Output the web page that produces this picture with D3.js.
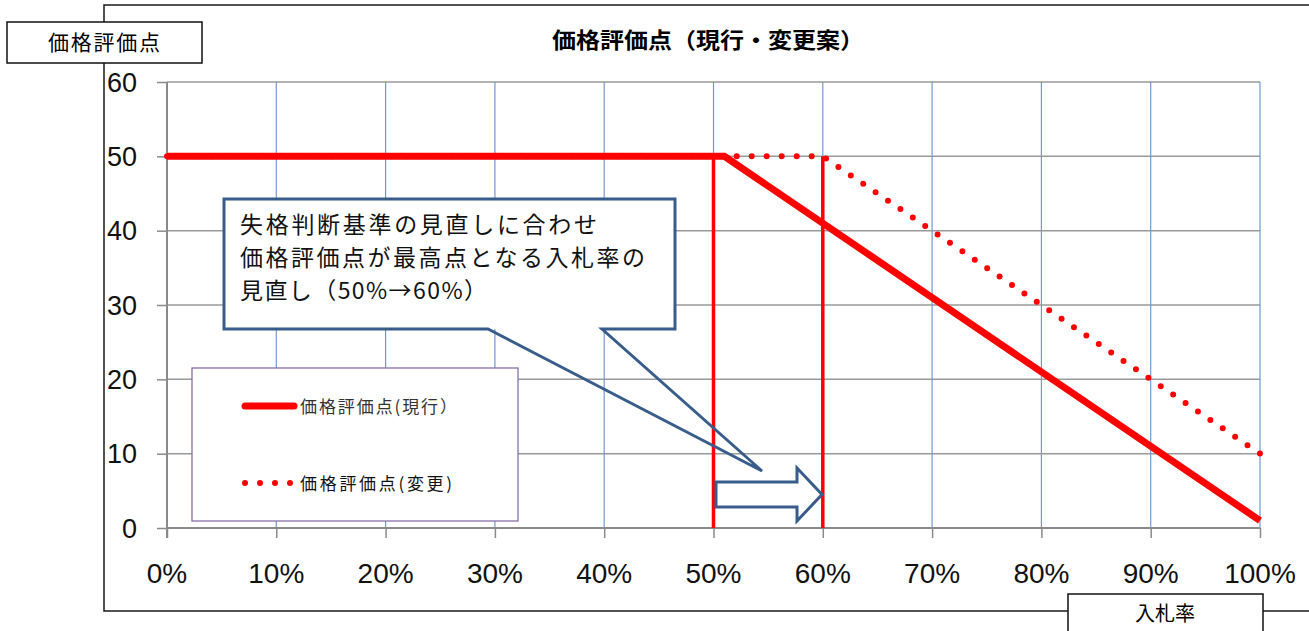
<!DOCTYPE html>
<html><head><meta charset="utf-8">
<script src="https://cdn.jsdelivr.net/npm/d3@7"></script>
<style>
body{margin:0;background:#fff;}
svg{display:block;font-family:"Liberation Sans","Noto Sans CJK JP",sans-serif;}
</style></head>
<body>
<svg id="c" width="1309" height="631"></svg>
<script>
// ---- data ----
const xTicks = [0,10,20,30,40,50,60,70,80,90,100];
const xTickLabels = ["0%","10%","20%","30%","40%","50%","60%","70%","80%","90%","100%"];
const yTicks = [0,10,20,30,40,50,60];
const currentX = [0,51,100];
const currentY = [50,50,1];
const changeX = [0,60,100];
const changeY = [50,50,10];
const markerX = [50,60];
const markerTop = 50;
const titleText = "価格評価点（現行・変更案）";
const yTitle = "価格評価点";
const xTitle = "入札率";
const legendNames = ["価格評価点(現行）","価格評価点(変更)"];
const calloutLines = ["失格判断基準の見直しに合わせ","価格評価点が最高点となる入札率の","見直し（50%→60%）"];

const svg = d3.select("#c");
const x = d3.scaleLinear().domain([0,100]).range([167,1260]);
const y = d3.scaleLinear().domain([0,60]).range([528,82]);
const cjk = "'Noto Sans CJK JP',sans-serif";

// outer chart border
svg.append("path").attr("d","M1309,5 H104 V611 H1309").attr("fill","none").attr("stroke","#1a1a1a").attr("stroke-width",1.5);

// title
svg.append("text").attr("x",708).attr("y",48).attr("text-anchor","middle")
  .attr("font-size",22).attr("font-weight","bold").attr("font-family",cjk)
  .attr("textLength",312).attr("lengthAdjust","spacingAndGlyphs")
  .text(titleText);

// gridlines
const g = svg.append("g");
g.selectAll(".hg").data(yTicks.filter(d=>d>0)).enter().append("line")
  .attr("x1",x(0)).attr("x2",x(100)).attr("y1",d=>y(d)).attr("y2",d=>y(d))
  .attr("stroke","#9a9a9a").attr("stroke-width",1.5);
g.selectAll(".vg").data(xTicks.filter(d=>d>0)).enter().append("line")
  .attr("x1",d=>x(d)).attr("x2",d=>x(d)).attr("y1",y(60)).attr("y2",y(0))
  .attr("stroke","#7199cf").attr("stroke-width",1.2);

// axes
const yAxis = d3.axisLeft(y).tickValues(yTicks).tickSize(10).tickFormat("");
const ya = svg.append("g").attr("transform",`translate(${x(0)},0)`).call(yAxis);
ya.selectAll("line").attr("stroke","#8a8a8a").attr("stroke-width",1.5);
ya.select(".domain").attr("stroke","#8a8a8a").attr("stroke-width",2).attr("d",`M0,${y(60)}V${y(0)+10}`);
svg.selectAll(".ylab").data(yTicks).enter().append("text")
  .attr("x",137).attr("y",d=>y(d)).attr("dy","0.36em").attr("text-anchor","end")
  .attr("font-size",27).attr("fill","#111").text(d=>d);

const xAxis = d3.axisBottom(x).tickValues(xTicks).tickSize(10).tickFormat("");
const xa = svg.append("g").attr("transform",`translate(0,${y(0)})`).call(xAxis);
xa.selectAll("line").attr("stroke","#8a8a8a").attr("stroke-width",1.5);
xa.select(".domain").attr("stroke","#8a8a8a").attr("stroke-width",2).attr("d",`M${x(0)},0H${x(100)}`);
svg.selectAll(".xlab").data(xTicks).enter().append("text")
  .attr("x",d=>x(d)).attr("y",583).attr("text-anchor","middle")
  .attr("font-size",28).attr("fill","#111").text((d,i)=>xTickLabels[i]);

// legend box
const lg = svg.append("g");
lg.append("rect").attr("x",192).attr("y",368).attr("width",326).attr("height",153)
  .attr("fill","#fff").attr("stroke","#8064a2").attr("stroke-width",1.2);
lg.append("line").attr("x1",245).attr("x2",294).attr("y1",406).attr("y2",406)
  .attr("stroke","#ff0000").attr("stroke-width",7).attr("stroke-linecap","round");
lg.append("line").attr("x1",245).attr("x2",291).attr("y1",483).attr("y2",483)
  .attr("stroke","#ff0000").attr("stroke-width",6).attr("stroke-linecap","round").attr("stroke-dasharray","0 15");
lg.append("text").attr("x",300).attr("y",413).attr("font-size",17).attr("fill","#333").attr("font-family",cjk).attr("textLength",157).attr("lengthAdjust","spacing").text(legendNames[0]);
lg.append("text").attr("x",300).attr("y",490).attr("font-size",17).attr("fill","#111").attr("font-family",cjk).attr("textLength",152).attr("lengthAdjust","spacing").text(legendNames[1]);

// series
const line = d3.line().x(d=>x(d[0])).y(d=>y(d[1]));
const changeData = changeX.map((v,i)=>[v,changeY[i]]);
const currentData = currentX.map((v,i)=>[v,currentY[i]]);
const dp = svg.append("path").datum(changeData).attr("d",line).attr("fill","none")
  .attr("stroke","#ff0000").attr("stroke-width",6).attr("stroke-linecap","round");
const L = dp.node().getTotalLength();
const gap = L/Math.round(L/15) - 0.001;
dp.attr("stroke-dasharray",`0 ${gap}`);
svg.selectAll(".mk").data(markerX).enter().append("line")
  .attr("x1",d=>x(d)).attr("x2",d=>x(d)).attr("y1",y(markerTop)).attr("y2",y(0))
  .attr("stroke","#ff0000").attr("stroke-width",3.5);
svg.append("path").datum(currentData).attr("d",line).attr("fill","none")
  .attr("stroke","#ff0000").attr("stroke-width",7).attr("stroke-linejoin","miter");

// callout
const cb = svg.append("g");
cb.append("rect").attr("x",224).attr("y",199).attr("width",451).attr("height",130).attr("fill","#fff");
cb.append("path").attr("d","M224,199 H675 V329 H602 L762,471 L488,329 H224 Z")
  .attr("fill","none").attr("stroke","#385d8a").attr("stroke-width",3).attr("stroke-linejoin","miter");
const tl = [[240,233,357],[240,266,405],[240,299,247]];
calloutLines.forEach((t,i)=>{
  cb.append("text").attr("x",tl[i][0]).attr("y",tl[i][1]).attr("font-size",23)
    .attr("font-family",cjk).attr("fill","#111")
    .attr("textLength",tl[i][2]).attr("lengthAdjust","spacing").text(t);
});

// block arrow
svg.append("path").attr("d","M716,482 H797 V468 L822,494.5 L797,521 V507 H716 Z")
  .attr("fill","#fff").attr("stroke","#385d8a").attr("stroke-width",3).attr("stroke-linejoin","miter");

// y title box
svg.append("rect").attr("x",7).attr("y",22).attr("width",195).attr("height",41).attr("fill","#fff").attr("stroke","#111").attr("stroke-width",1.5);
svg.append("text").attr("x",104).attr("y",50).attr("text-anchor","middle").attr("font-size",21)
  .attr("font-family",cjk).attr("textLength",112).attr("lengthAdjust","spacing").text(yTitle);

// x title box
svg.append("rect").attr("x",1068).attr("y",594).attr("width",195).attr("height",45).attr("fill","#fff").attr("stroke","#111").attr("stroke-width",1.5);
svg.append("text").attr("x",1165).attr("y",621).attr("text-anchor","middle").attr("font-size",20)
  .attr("font-family",cjk).text(xTitle);
</script>
</body></html>
